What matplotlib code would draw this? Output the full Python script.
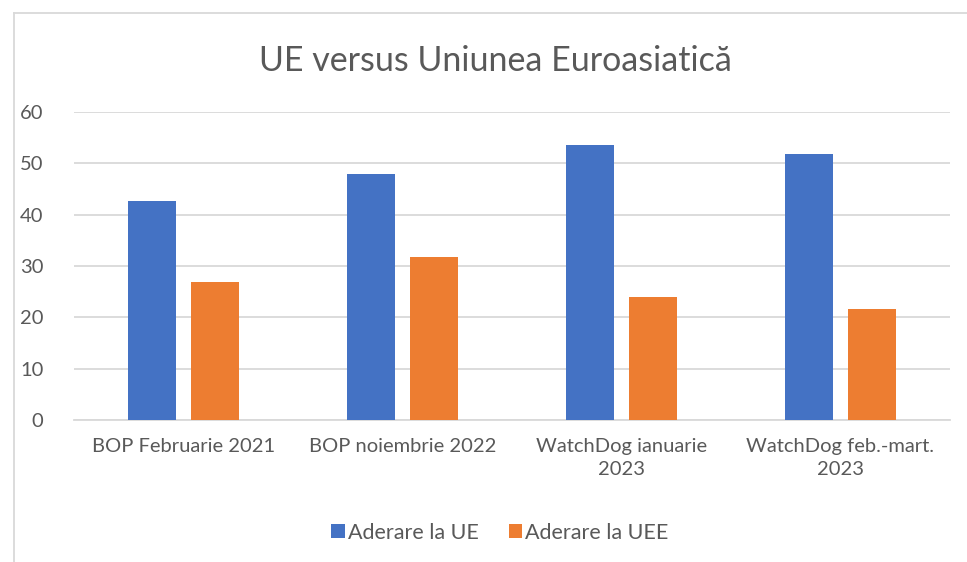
import matplotlib
matplotlib.use("Agg")
import matplotlib.pyplot as plt
import numpy as np
from matplotlib.lines import Line2D

categories = ["BOP Februarie 2021", "BOP noiembrie 2022", "WatchDog ianuarie\n2023", "WatchDog feb.-mart.\n2023"]
series_names = ["Aderare la UE", "Aderare la UEE"]
ue_values = [42.6, 48.0, 53.5, 51.9]
uee_values = [26.8, 31.8, 23.9, 21.6]
yticks = [0, 10, 20, 30, 40, 50, 60]
title = "UE versus Uniunea Euroasiatică"

blue = "#4472C4"
orange = "#ED7D31"
grey_text = "#595959"
grid_c = "#D9D9D9"

plt.rcParams['font.family'] = ['Lato', 'DejaVu Sans']

fig = plt.figure(figsize=(9.67, 5.62), dpi=100)
ax = fig.add_axes([74/967, 1 - 420/562, (950-74)/967, (420-112)/562])

x = np.arange(len(categories))
w = 0.22
off = 0.142
ax.bar(x - off, ue_values, w, color=blue, label=series_names[0], zorder=3)
ax.bar(x + off, uee_values, w, color=orange, label=series_names[1], zorder=3)

ax.set_xlim(-0.5, len(categories) - 0.5)
ax.set_ylim(0, 60)
ax.set_yticks(yticks)
ax.set_yticklabels([str(t) for t in yticks], fontsize=14.5, color=grey_text)
ax.set_xticks(x)
ax.set_xticklabels(categories, fontsize=14.5, color=grey_text, linespacing=1.45)
ax.tick_params(axis='both', length=0)
ax.tick_params(axis='y', pad=22)
ax.tick_params(axis='x', pad=13)
ax.yaxis.grid(True, color=grid_c, linewidth=1.3, zorder=0)
for s in ['left', 'right', 'top']:
    ax.spines[s].set_visible(False)
ax.spines['bottom'].set_color(grid_c)
ax.spines['bottom'].set_linewidth(1.3)

fig.text(495.5/967, 1 - 61/562, title, ha='center', va='center', fontsize=24.5, color=grey_text)

leg = fig.legend(loc='center', bbox_to_anchor=(500/967, 1 - 533/562), ncol=2, frameon=False,
                 fontsize=15.5, handlelength=0.62, handleheight=0.62, handletextpad=0.15,
                 columnspacing=1.4)
for t in leg.get_texts():
    t.set_color(grey_text)

# chart frame
fig.add_artist(Line2D([14/967, 14/967], [0, 1 - 13/562], color="#D9D9D9", linewidth=1.3, transform=fig.transFigure))
fig.add_artist(Line2D([14/967, 1], [1 - 13/562, 1 - 13/562], color="#D9D9D9", linewidth=1.3, transform=fig.transFigure))

fig.savefig("out.png", dpi=100, facecolor="white")
